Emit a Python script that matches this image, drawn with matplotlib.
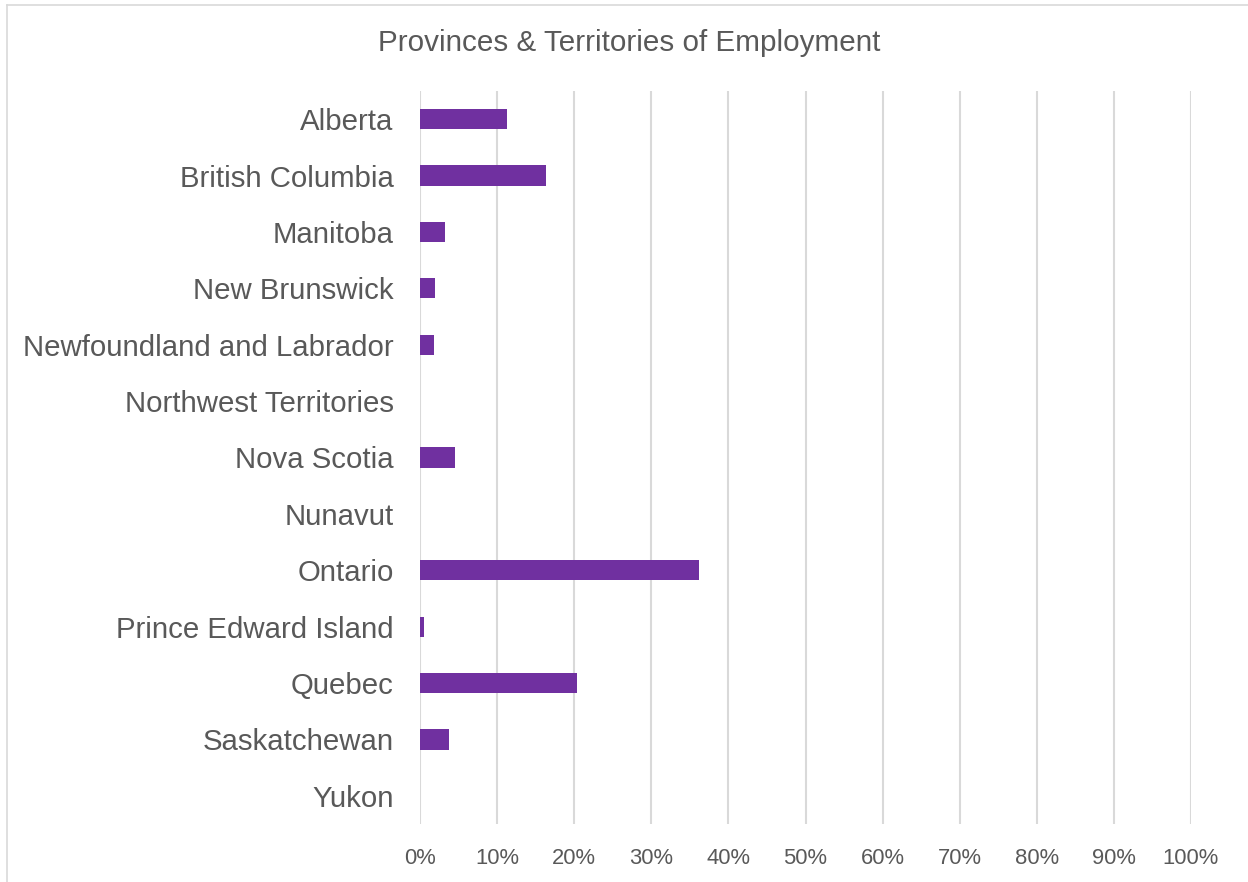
import matplotlib.pyplot as plt
import matplotlib.lines as mlines
from matplotlib.ticker import PercentFormatter

plt.rcParams["font.family"] = ["Liberation Sans", "DejaVu Sans"]

provinces = [
    "Alberta",
    "British Columbia",
    "Manitoba",
    "New Brunswick",
    "Newfoundland and Labrador",
    "Northwest Territories",
    "Nova Scotia",
    "Nunavut",
    "Ontario",
    "Prince Edward Island",
    "Quebec",
    "Saskatchewan",
    "Yukon",
]
share_pct = [11.3, 16.3, 3.3, 2.0, 1.8, 0.0, 4.6, 0.0, 36.2, 0.5, 20.3, 3.7, 0.05]
x_ticks = list(range(0, 101, 10))

TEXT = "#595959"
GRID = "#D9D9D9"
BAR = "#7030A0"

fig = plt.figure(figsize=(12.48, 8.82), dpi=100)
ax = fig.add_axes([420 / 1248, 1 - 824 / 882, 771 / 1248, 733 / 882])

y = list(range(len(provinces)))
ax.barh(y, share_pct, height=0.36, color=BAR, zorder=3)

ax.set_xlim(0, 100)
ax.set_ylim(len(provinces) - 0.5, -0.5)
ax.set_yticks(y)
ax.set_yticklabels(provinces, fontsize=21.2, color=TEXT)
ax.set_xticks(x_ticks)
ax.xaxis.set_major_formatter(PercentFormatter(decimals=0))
ax.tick_params(axis="x", length=0, pad=17, labelsize=15.8, labelcolor=TEXT)
ax.tick_params(axis="y", length=0, pad=19)
ax.grid(axis="x", color=GRID, linewidth=1.5, zorder=0)
for s in ax.spines.values():
    s.set_visible(False)

fig.text(629 / 1248, 1 - 43 / 882, "Provinces & Territories of Employment",
         ha="center", va="center", fontsize=21.3, color=TEXT)

# chart frame (cropped at right and bottom)
fig.add_artist(mlines.Line2D([7 / 1248, 1], [1 - 4.5 / 882] * 2,
                             color=GRID, linewidth=1.2))
fig.add_artist(mlines.Line2D([7 / 1248] * 2, [0, 1 - 4.5 / 882],
                             color=GRID, linewidth=1.2))

fig.savefig("out.png", dpi=100)
